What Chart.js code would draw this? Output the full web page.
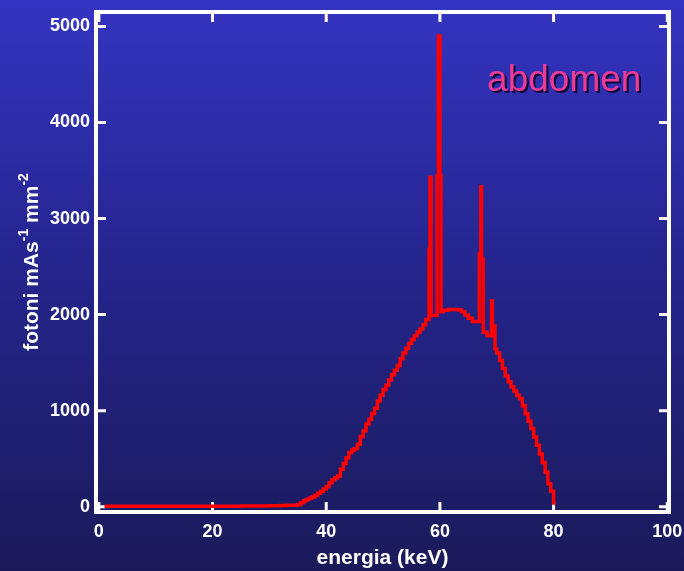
<!DOCTYPE html>
<html>
<head>
<meta charset="utf-8">
<script src="https://cdn.jsdelivr.net/npm/chart.js@4/dist/chart.umd.min.js"></script>
<style>
  html, body { margin: 0; padding: 0; background: #1b1b5e; }
  canvas { display: block; }
</style>
</head>
<body>
<canvas id="chart-spettro" width="684" height="571"></canvas>
<script>
// spettro dei fotoni in uscita, abdomen (energia in keV)
var energie = [
    1, 5, 10, 15, 20, 25, 28, 30, 31, 32,
    33, 34, 35, 35.5, 36, 36.5, 37, 37.5, 38, 38.5,
    39, 39.5, 40, 40.5, 41, 41.5, 42, 42.5, 43, 43.5,
    44, 44.5, 45, 45.5, 46, 46.5, 47, 47.5, 48, 48.5,
    49, 49.5, 50, 50.5, 51, 51.5, 52, 52.5, 53, 53.5,
    54, 54.5, 55, 55.5, 56, 56.5, 57, 57.5, 58.08, 58.26,
    58.47, 59.49, 59.73, 60.02, 60.19, 60.6, 61.5, 62.5, 63.3, 63.8,
    64.4, 65, 65.7, 66.93, 67.19, 67.32, 67.62, 68.3, 69.08, 69.25,
    69.69, 70, 70.5, 71, 71.5, 72, 72.5, 73, 73.5, 74,
    74.5, 75, 75.5, 76, 76.5, 77, 77.5, 78, 78.5, 79,
    79.5, 80
];
var fotoni = [
    5, 5, 5, 5, 6, 7, 8, 10, 10, 12,
    14, 16, 22, 40, 62, 75, 88, 100, 120, 140,
    160, 185, 210, 250, 280, 300, 320, 390, 450, 510,
    565, 590, 605, 650, 730, 790, 860, 910, 970, 1025,
    1100, 1160, 1220, 1265, 1320, 1375, 1420, 1470, 1540, 1600,
    1650, 1700, 1740, 1780, 1815, 1850, 1895, 1950, 2680, 3430,
    1990, 3440, 4900, 3440, 2030, 2045, 2052, 2052, 2048, 2030,
    1995, 1962, 1928, 2630, 3330, 2580, 1815, 1780, 2145, 1880,
    1642, 1600, 1521, 1440, 1360, 1300, 1250, 1205, 1160, 1123,
    1050, 967, 890, 815, 725, 640, 550, 460, 360, 240,
    160, 20
];
var xTicks = [0, 20, 40, 60, 80, 100];
var yTicks = [0, 1000, 2000, 3000, 4000, 5000];
var etichetta = 'abdomen';

var FONT = '"Liberation Sans", Arial, sans-serif';

// sfondo sfumato blu
var sfondo = {
    id: 'sfondo',
    beforeDraw: function(chart) {
        var ctx = chart.ctx;
        var g = ctx.createLinearGradient(0, 0, 0, chart.height);
        g.addColorStop(0, '#3434c2');
        g.addColorStop(0.5, '#24248a');
        g.addColorStop(1, '#1a1a5a');
        ctx.save();
        ctx.fillStyle = g;
        ctx.fillRect(0, 0, chart.width, chart.height);
        ctx.restore();
    }
};

// cornice bianca con tacche verso l'interno su tutti i lati
var cornice = {
    id: 'cornice',
    beforeDatasetsDraw: function(chart) {
        var ctx = chart.ctx, a = chart.chartArea;
        var sx = chart.scales.x, sy = chart.scales.y;
        var L = 10;
        ctx.save();
        ctx.strokeStyle = '#ffffff';
        ctx.lineWidth = 3;
        ctx.beginPath();
        xTicks.forEach(function(v) {
            var px = sx.getPixelForValue(v);
            ctx.moveTo(px, a.bottom); ctx.lineTo(px, a.bottom - L);
            ctx.moveTo(px, a.top); ctx.lineTo(px, a.top + L);
        });
        yTicks.forEach(function(v) {
            var py = sy.getPixelForValue(v);
            ctx.moveTo(a.left, py); ctx.lineTo(a.left + L, py);
            ctx.moveTo(a.right, py); ctx.lineTo(a.right - L, py);
        });
        ctx.stroke();
        ctx.lineWidth = 4;
        ctx.strokeRect(a.left, a.top, a.right - a.left, a.bottom - a.top);
        ctx.restore();
    }
};

// titolo asse y con esponenti, e scritta "abdomen"
var testi = {
    id: 'testi',
    afterDraw: function(chart) {
        var ctx = chart.ctx, a = chart.chartArea;
        var sx = chart.scales.x, sy = chart.scales.y;
        ctx.save();
        var parti = [['fotoni mAs', false], ['-1', true], [' mm', false], ['-2', true]];
        var fMain = 'bold 21px ' + FONT, fSup = 'bold 14px ' + FONT;
        var tot = 0;
        parti.forEach(function(p) { ctx.font = p[1] ? fSup : fMain; tot += ctx.measureText(p[0]).width; });
        ctx.translate(38, (a.top + a.bottom) / 2);
        ctx.rotate(-Math.PI / 2);
        ctx.fillStyle = '#ffffff';
        ctx.textBaseline = 'alphabetic';
        ctx.textAlign = 'left';
        var x = -tot / 2;
        parti.forEach(function(p) {
            ctx.font = p[1] ? fSup : fMain;
            ctx.fillText(p[0], x, p[1] ? -10 : 0);
            x += ctx.measureText(p[0]).width;
        });
        ctx.restore();

        ctx.save();
        ctx.font = '37px ' + FONT;
        ctx.textBaseline = 'alphabetic';
        var tx = sx.getPixelForValue(68.3), ty = sy.getPixelForValue(4330);
        ctx.fillStyle = 'rgba(12, 4, 40, 0.9)';
        ctx.fillText(etichetta, tx + 2, ty + 2);
        ctx.fillStyle = '#ee3a96';
        ctx.fillText(etichetta, tx, ty);
        ctx.restore();
    }
};

var ctx = document.getElementById('chart-spettro').getContext('2d');
var chart = new Chart(ctx, {
    type: 'line',
    data: {
        datasets: [{
            data: energie.map(function(e, i) { return {x: e, y: fotoni[i]}; }),
            borderColor: '#ff0000',
            borderWidth: 3.5,
            pointRadius: 0,
            stepped: 'before',   // ogni valore vale fino all'energia successiva
            fill: false
        }]
    },
    options: {
        responsive: false,
        animation: false,
        events: [],
        layout: { padding: { left: 0, top: 12, right: 15, bottom: 0 } },
        plugins: { legend: { display: false }, tooltip: { enabled: false } },
        scales: {
            x: {
                type: 'linear',
                min: -0.5,
                max: 100.3,
                grid: { display: false, drawTicks: false },
                border: { display: false },
                afterBuildTicks: function(s) { s.ticks = xTicks.map(function(v) { return {value: v}; }); },
                afterFit: function(s) { s.height = 59; s.paddingLeft = 0; s.paddingRight = 0; },
                ticks: {
                    color: '#ffffff',
                    font: { family: FONT, size: 18, weight: 'bold' },
                    padding: 9,
                    maxRotation: 0,
                    autoSkip: false,
                    callback: function(v) { return String(v); }
                },
                title: {
                    display: true,
                    text: 'energia (keV)',
                    color: '#ffffff',
                    font: { family: FONT, size: 21, weight: 'bold' },
                    padding: { top: 0, bottom: 0 }
                }
            },
            y: {
                min: -55,
                max: 5150,
                grid: { display: false, drawTicks: false },
                border: { display: false },
                afterBuildTicks: function(s) { s.ticks = yTicks.map(function(v) { return {value: v}; }); },
                afterFit: function(s) { s.width = 96; s.paddingTop = 0; s.paddingBottom = 0; },
                ticks: {
                    color: '#ffffff',
                    font: { family: FONT, size: 18, weight: 'bold' },
                    padding: 6,
                    autoSkip: false,
                    callback: function(v) { return String(v); }
                }
            }
        }
    },
    plugins: [sfondo, cornice, testi]
});
</script>
</body>
</html>
